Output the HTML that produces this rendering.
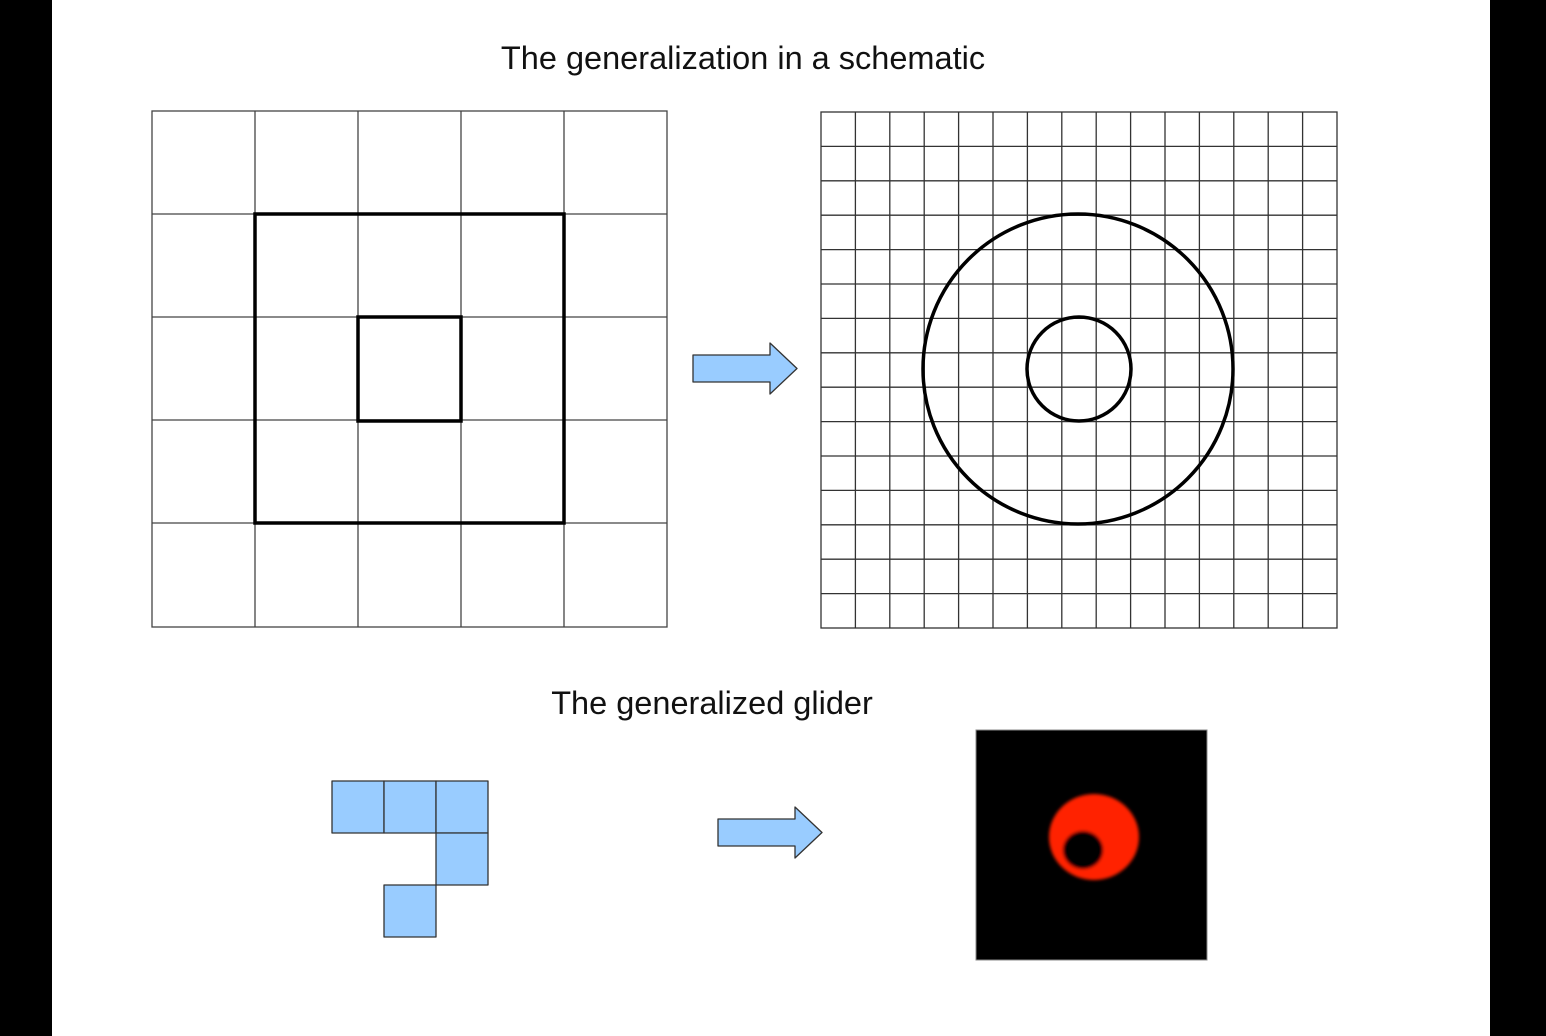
<!DOCTYPE html>
<html><head><style>
html,body{margin:0;padding:0;background:#000;}
</style></head><body>
<svg width="1546" height="1036" xmlns="http://www.w3.org/2000/svg" style="display:block">
<rect x="52" y="0" width="1438" height="1036" fill="#fff"/>
<text x="743" y="69" font-family="Liberation Sans, sans-serif" font-size="32.5" text-anchor="middle" fill="#111">The generalization in a schematic</text>
<text x="712" y="714" font-family="Liberation Sans, sans-serif" font-size="32.5" text-anchor="middle" fill="#111">The generalized glider</text>
<g stroke="#444" stroke-width="1.3" fill="none">
<rect x="152" y="111" width="515" height="516"/>
<path d="M255 111V627M358 111V627M461 111V627M564 111V627M152 214H667M152 317H667M152 420H667M152 523H667"/>
</g>
<g stroke="#000" stroke-width="3.5" fill="none">
<rect x="255" y="214" width="309" height="309"/>
<rect x="358" y="317" width="103" height="104"/>
</g>
<g stroke="#333" stroke-width="1.3" fill="none">
<rect x="821" y="112" width="516" height="516"/>
</g>
<g stroke="#333" stroke-width="1.3">
<line x1="855.4" y1="112" x2="855.4" y2="628"/><line x1="889.8" y1="112" x2="889.8" y2="628"/><line x1="924.2" y1="112" x2="924.2" y2="628"/><line x1="958.6" y1="112" x2="958.6" y2="628"/><line x1="993" y1="112" x2="993" y2="628"/><line x1="1027.4" y1="112" x2="1027.4" y2="628"/><line x1="1061.8" y1="112" x2="1061.8" y2="628"/><line x1="1096.2" y1="112" x2="1096.2" y2="628"/><line x1="1130.6" y1="112" x2="1130.6" y2="628"/><line x1="1165" y1="112" x2="1165" y2="628"/><line x1="1199.4" y1="112" x2="1199.4" y2="628"/><line x1="1233.8" y1="112" x2="1233.8" y2="628"/><line x1="1268.2" y1="112" x2="1268.2" y2="628"/><line x1="1302.6" y1="112" x2="1302.6" y2="628"/>
<line y1="146.4" x1="821" y2="146.4" x2="1337"/><line y1="180.8" x1="821" y2="180.8" x2="1337"/><line y1="215.2" x1="821" y2="215.2" x2="1337"/><line y1="249.6" x1="821" y2="249.6" x2="1337"/><line y1="284" x1="821" y2="284" x2="1337"/><line y1="318.4" x1="821" y2="318.4" x2="1337"/><line y1="352.8" x1="821" y2="352.8" x2="1337"/><line y1="387.2" x1="821" y2="387.2" x2="1337"/><line y1="421.6" x1="821" y2="421.6" x2="1337"/><line y1="456" x1="821" y2="456" x2="1337"/><line y1="490.4" x1="821" y2="490.4" x2="1337"/><line y1="524.8" x1="821" y2="524.8" x2="1337"/><line y1="559.2" x1="821" y2="559.2" x2="1337"/><line y1="593.6" x1="821" y2="593.6" x2="1337"/>
</g>
<circle cx="1078" cy="369" r="155" stroke="#000" stroke-width="3.5" fill="none"/>
<circle cx="1079" cy="369" r="52" stroke="#000" stroke-width="3.5" fill="none"/>
<g fill="#99ccff" stroke="#333" stroke-width="1.3" stroke-linejoin="round">
<path d="M693 355H770V343L797 368.5L770 394V382H693Z"/>
<path d="M718 819H795V807L822 832.5L795 858V846H718Z"/>
<rect x="332" y="781" width="52" height="52"/>
<rect x="384" y="781" width="52" height="52"/>
<rect x="436" y="781" width="52" height="52"/>
<rect x="436" y="833" width="52" height="52"/>
<rect x="384" y="885" width="52" height="52"/>
</g>
<rect x="976" y="730" width="231" height="230" fill="#000" stroke="#888" stroke-width="1"/>
<defs><filter id="b"><feGaussianBlur stdDeviation="1.5"/></filter></defs>
<g filter="url(#b)">
<ellipse cx="1094" cy="837" rx="45" ry="43" fill="#ff2200"/>
<ellipse cx="1083" cy="850" rx="20" ry="19" fill="#000"/>
</g>
</svg>
</body></html>
